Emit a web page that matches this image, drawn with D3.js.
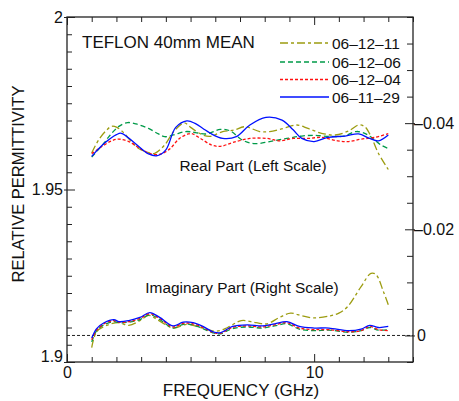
<!DOCTYPE html>
<html>
<head>
<meta charset="utf-8">
<script src="https://cdn.jsdelivr.net/npm/d3@7"></script>
<style>
body { margin: 0; background: #fff; }
text { font-family: "Liberation Sans", Arial, sans-serif; fill: #111; }
</style>
</head>
<body>
<script>
var seriesNames = ["06–12–11", "06–12–06", "06–12–04", "06–11–29"];
var seriesColors = ["#9c9c10", "#009a48", "#ff1010", "#0010ff"];
var seriesDash = ["8,3,3,3", "5,3", "3,2", null];

// real part, left scale
var realFreq11 = [1.0,1.3,1.6,1.8,2.0,2.3,2.6,2.9,3.3,3.55,3.95,4.35,4.75,5.0,5.5,5.8,6.3,6.75,7.2,7.8,8.2,8.75,9.3,9.75,10.3,10.85,11.4,11.8,12.05,12.3,12.6,13.0];
var real11 = [1.9606,1.9646,1.9672,1.9683,1.9681,1.9664,1.9639,1.9619,1.9607,1.9605,1.9629,1.9671,1.9693,1.9680,1.9658,1.9654,1.9668,1.9672,1.9682,1.9668,1.9668,1.9677,1.9687,1.9677,1.9663,1.9658,1.9670,1.9687,1.9682,1.9654,1.9605,1.9558];

var realFreq06 = [1.0,1.5,1.75,2.1,2.45,2.8,3.3,3.7,3.95,4.3,4.8,5.2,5.65,6.2,6.6,7.1,7.6,8.2,8.9,9.5,10.0,10.6,11.2,11.7,12.0,12.3,12.7,13.0];
var real06 = [1.9594,1.9635,1.9658,1.9683,1.9694,1.9690,1.9677,1.9661,1.9653,1.9658,1.9668,1.9665,1.9661,1.9674,1.9670,1.9643,1.9633,1.9639,1.9648,1.9655,1.9657,1.9654,1.9655,1.9668,1.9664,1.9652,1.9629,1.9619];

var realFreq04 = [1.0,1.4,1.8,2.1,2.5,2.95,3.4,3.75,4.15,4.55,4.9,5.05,5.4,5.85,6.2,6.7,7.4,8.1,8.6,9.15,9.75,10.3,10.95,11.4,11.9,12.45,13.0];
var real04 = [1.9604,1.9624,1.9641,1.9646,1.9639,1.9619,1.9603,1.9602,1.9617,1.9648,1.9661,1.9662,1.9648,1.9629,1.9625,1.9636,1.9648,1.9648,1.9641,1.9648,1.9648,1.9651,1.9641,1.9639,1.9646,1.9651,1.9662];

var realFreq29 = [1.0,1.5,2.0,2.2,2.75,3.3,3.65,4.0,4.4,4.85,5.2,5.5,5.8,6.3,6.85,7.4,8.05,8.7,9.15,9.5,10.0,10.55,11.25,11.8,12.25,12.6,13.0];
var real29 = [1.9596,1.9633,1.9659,1.9663,1.9634,1.9603,1.9598,1.9615,1.9680,1.9699,1.9691,1.9677,1.9663,1.9648,1.9653,1.9687,1.9709,1.9701,1.9673,1.9648,1.9639,1.9651,1.9655,1.9661,1.9648,1.9641,1.9658];

// imaginary part, right scale
var imagFreq11 = [1.0,1.2,1.6,2.1,2.5,2.95,3.3,3.65,4.3,4.85,5.4,6.05,6.5,7.05,7.65,8.1,8.6,9.05,9.5,10.0,10.65,11.0,11.35,11.9,12.3,12.5,12.8,13.0];
var imag11 = [0.0023,-0.0007,-0.0019,-0.0024,-0.0019,-0.0028,-0.0038,-0.0030,-0.0014,-0.0021,-0.0015,-0.0008,-0.0015,-0.0028,-0.0024,-0.0022,-0.0034,-0.0042,-0.0037,-0.0033,-0.0037,-0.0042,-0.0054,-0.0092,-0.0117,-0.0115,-0.0083,-0.0058];

var imagFreq = [1.0,1.2,1.5,1.9,2.1,2.5,2.95,3.35,3.75,4.3,4.7,5.1,5.5,5.9,6.2,6.7,7.3,7.9,8.4,8.9,9.4,10.0,10.6,11.4,11.9,12.25,12.6,13.0];
var imag06 = [0.0012,-0.0009,-0.0020,-0.0026,-0.0024,-0.0025,-0.0030,-0.0039,-0.0030,-0.0014,-0.0021,-0.0020,-0.0013,-0.0005,-0.0003,-0.0013,-0.0016,-0.0014,-0.0018,-0.0022,-0.0012,-0.0009,-0.0010,-0.0006,-0.0009,-0.0015,-0.0010,-0.0011];
var imag04 = [0.0008,-0.0010,-0.0022,-0.0028,-0.0025,-0.0026,-0.0032,-0.0041,-0.0032,-0.0016,-0.0023,-0.0022,-0.0015,-0.0006,-0.0004,-0.0015,-0.0018,-0.0016,-0.0020,-0.0024,-0.0014,-0.0011,-0.0011,-0.0007,-0.0009,-0.0017,-0.0011,-0.0009];
var imag29 = [0.0005,-0.0013,-0.0024,-0.0030,-0.0026,-0.0028,-0.0034,-0.0043,-0.0034,-0.0018,-0.0025,-0.0024,-0.0017,-0.0007,-0.0005,-0.0017,-0.0020,-0.0018,-0.0022,-0.0026,-0.0017,-0.0014,-0.0014,-0.0009,-0.0012,-0.0019,-0.0015,-0.0017];

// axis ticks
var xTicks = d3.range(0, 15);
var xLabels = [0, 10];
var leftTicks = d3.range(0, 21).map(function(i){ return 1.9 + i * 0.005; });
var leftLabels = [1.9, 1.95, 2];
var leftLabelText = ["1.9", "1.95", "2"];
var rightTicks = d3.range(0, 14).map(function(i){ return 0.005 - i * 0.005; });
var rightLabels = [0, -0.02, -0.04];
var rightLabelText = ["0", "–0.02", "–0.04"];

var W = 459, H = 401;
var L = 67, R = 413, T = 17, B = 362;

var svg = d3.select('body').append('svg')
    .attr('width', W)
    .attr('height', H);

var x = d3.scaleLinear().domain([0, 14]).range([L, R]);
var yL = d3.scaleLinear().domain([1.9, 2]).range([B, T]);
var yR = d3.scaleLinear().domain([0.005, -0.06]).range([B, T]);

function findLabel(list, d) {
    for (var i = 0; i < list.length; i++) {
        if (Math.abs(list[i] - d) < 1e-6) return i;
    }
    return -1;
}

// zero line of right scale
svg.append('line')
    .attr('x1', L).attr('x2', R)
    .attr('y1', yR(0)).attr('y2', yR(0))
    .attr('stroke', '#222')
    .attr('stroke-width', 1)
    .attr('stroke-dasharray', '3,2');

// curves
var realSets = [[realFreq11, real11], [realFreq06, real06], [realFreq04, real04], [realFreq29, real29]];
var imagSets = [[imagFreq11, imag11], [imagFreq, imag06], [imagFreq, imag04], [imagFreq, imag29]];

var lineL = d3.line()
    .x(function(d){ return x(d[0]); })
    .y(function(d){ return yL(d[1]); })
    .curve(d3.curveCatmullRom);
var lineR = d3.line()
    .x(function(d){ return x(d[0]); })
    .y(function(d){ return yR(d[1]); })
    .curve(d3.curveCatmullRom);

function pairs(set) {
    return set[0].map(function(f, i){ return [f, set[1][i]]; });
}

realSets.forEach(function(s, i) {
    svg.append('path')
        .attr('d', lineL(pairs(s)))
        .attr('fill', 'none')
        .attr('stroke', seriesColors[i])
        .attr('stroke-width', 1.3)
        .attr('stroke-dasharray', seriesDash[i]);
});
imagSets.forEach(function(s, i) {
    svg.append('path')
        .attr('d', lineR(pairs(s)))
        .attr('fill', 'none')
        .attr('stroke', seriesColors[i])
        .attr('stroke-width', 1.3)
        .attr('stroke-dasharray', seriesDash[i]);
});

// axes
var gB = svg.append('g').attr('transform', 'translate(0,' + B + ')')
    .call(d3.axisBottom(x).tickValues(xTicks).tickSize(-5).tickSizeOuter(0).tickPadding(5)
        .tickFormat(function(d){ return xLabels.indexOf(d) >= 0 ? d : ""; }));
gB.selectAll('.tick line').filter(function(d){ return xLabels.indexOf(d) >= 0; }).attr('y2', -8);

var gT = svg.append('g').attr('transform', 'translate(0,' + T + ')')
    .call(d3.axisTop(x).tickValues(xTicks).tickSize(-5).tickSizeOuter(0).tickFormat(""));
gT.selectAll('.tick line').filter(function(d){ return xLabels.indexOf(d) >= 0; }).attr('y2', 8);

var gL = svg.append('g').attr('transform', 'translate(' + L + ',0)')
    .call(d3.axisLeft(yL).tickValues(leftTicks).tickSize(-5).tickSizeOuter(0).tickPadding(4)
        .tickFormat(function(d){ var k = findLabel(leftLabels, d); return k >= 0 ? leftLabelText[k] : ""; }));
gL.selectAll('.tick line').filter(function(d){ return findLabel(leftLabels, d) >= 0; })
    .attr('x1', -3).attr('x2', 8);
gL.selectAll('.tick text').filter(function(d){ return Math.abs(d - 1.9) < 1e-6; }).attr('dy', '-0.05em');

var gR = svg.append('g').attr('transform', 'translate(' + R + ',0)')
    .call(d3.axisRight(yR).tickValues(rightTicks).tickSize(-6).tickSizeOuter(0).tickPadding(1)
        .tickFormat(function(d){ var k = findLabel(rightLabels, d); return k >= 0 ? rightLabelText[k] : ""; }));
gR.selectAll('.tick line').filter(function(d){ return findLabel(rightLabels, d) >= 0; })
    .attr('x1', 2).attr('x2', -8);
gR.selectAll('.tick text').filter(function(d){ return Math.abs(d) < 1e-6; }).attr('x', 4);

svg.selectAll('.domain').remove();
svg.selectAll('.tick line').attr('stroke', '#222').attr('stroke-width', 1);
svg.selectAll('.tick text')
    .style('font-family', '"Liberation Sans", Arial, sans-serif')
    .style('font-size', '16px')
    .attr('fill', '#111');

// frame
svg.append('rect')
    .attr('x', L).attr('y', T)
    .attr('width', R - L).attr('height', B - T)
    .attr('fill', 'none')
    .attr('stroke', '#222')
    .attr('stroke-width', 1.3);

// titles
svg.append('text')
    .attr('x', (L + R) / 2 + 1).attr('y', 396)
    .attr('text-anchor', 'middle')
    .style('font-size', '17px')
    .text('FREQUENCY (GHz)');

svg.append('text')
    .attr('transform', 'translate(24,184) rotate(-90)')
    .attr('text-anchor', 'middle')
    .style('font-size', '16.5px')
    .text('RELATIVE PERMITTIVITY');

svg.append('text')
    .attr('x', 82).attr('y', 48)
    .style('font-size', '17px')
    .text('TEFLON 40mm MEAN');

svg.append('text')
    .attr('x', 253).attr('y', 171)
    .attr('text-anchor', 'middle')
    .style('font-size', '15.4px')
    .text('Real Part (Left Scale)');

svg.append('text')
    .attr('x', 242).attr('y', 293)
    .attr('text-anchor', 'middle')
    .style('font-size', '15.4px')
    .text('Imaginary Part (Right Scale)');

// legend
var legY = [43, 62, 79.5, 97];
var legend = svg.selectAll('.leg')
    .data(seriesNames)
    .enter()
    .append('g')
    .attr('class', 'leg')
    .attr('transform', function(d, i){ return 'translate(0,' + legY[i] + ')'; });
legend.append('line')
    .attr('x1', 280).attr('x2', 329)
    .attr('y1', 0).attr('y2', 0)
    .attr('stroke', function(d, i){ return seriesColors[i]; })
    .attr('stroke-width', 1.3)
    .attr('stroke-dasharray', function(d, i){ return seriesDash[i]; });
legend.append('text')
    .attr('x', 332).attr('y', 5.5)
    .style('font-size', '15.5px')
    .text(function(d){ return d; });
</script>
</body>
</html>
